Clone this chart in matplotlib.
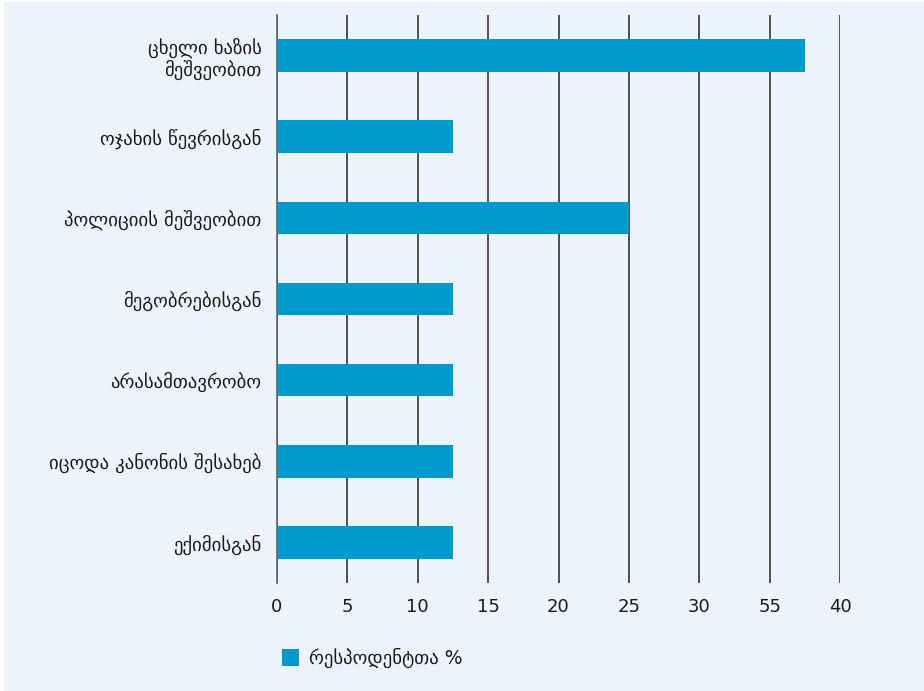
import matplotlib
matplotlib.use("Agg")
import matplotlib.pyplot as plt
from matplotlib.patches import Rectangle

categories = [
    "ცხელი ხაზის\nმეშვეობით",
    "ოჯახის წევრისგან",
    "პოლიციის მეშვეობით",
    "მეგობრებისგან",
    "არასამთავრობო",
    "იცოდა კანონის შესახებ",
    "ექიმისგან",
]
values = [37.5, 12.5, 25, 12.5, 12.5, 12.5, 12.5]
tick_values = [0, 5, 10, 15, 20, 25, 30, 35, 40]
tick_labels = ["0", "5", "10", "15", "20", "25", "30", "55", "40"]
series_name = "რესპოდენტთა %"

plt.rcParams['font.family'] = ['DejaVu Sans']
bg = "#EDF3FA"
bar_color = "#0099CC"
txt = "#1a1a1a"

W, H = 924, 691
fig = plt.figure(figsize=(W / 100, H / 100), dpi=100, facecolor="white")
fig.patches.append(Rectangle((4 / W, 0), 1 - 4 / W, 1 - 2 / H, transform=fig.transFigure,
                             facecolor=bg, edgecolor="none", zorder=-10))

left, right = 277 / W, 840 / W
top, bottom = 1 - 15 / H, 1 - 583 / H
ax = fig.add_axes([left, bottom, right - left, top - bottom])
ax.set_facecolor(bg)
ax.patch.set_alpha(0)

y = list(range(len(categories)))
ax.barh(y, values, height=0.4, color=bar_color, zorder=3, label=series_name)
ax.set_ylim(len(categories) - 0.5, -0.5)
ax.set_xlim(0, 40)
ax.set_yticks(y)
ax.set_yticklabels(categories, fontsize=13.5, color=txt, linespacing=1.15)
ax.set_xticks(tick_values)
ax.set_xticklabels(tick_labels, fontsize=13, color=txt)
ax.tick_params(axis="y", length=0, pad=11)
ax.tick_params(axis="x", length=0, pad=11)
ax.grid(axis="x", color="#222222", linewidth=1.1, zorder=1)
for s in ["top", "right", "bottom"]:
    ax.spines[s].set_visible(False)
ax.spines["left"].set_color("#666666")
ax.spines["left"].set_linewidth(1.2)
ax.spines["left"].set_zorder(4)

leg = fig.legend(loc="upper left", bbox_to_anchor=(265 / W, 1 - 631 / H), frameon=False,
                 fontsize=13.5, handlelength=0.9, handleheight=1.0, handletextpad=0.55)
for t in leg.get_texts():
    t.set_color(txt)

fig.savefig("out.png", dpi=100, facecolor="white")
